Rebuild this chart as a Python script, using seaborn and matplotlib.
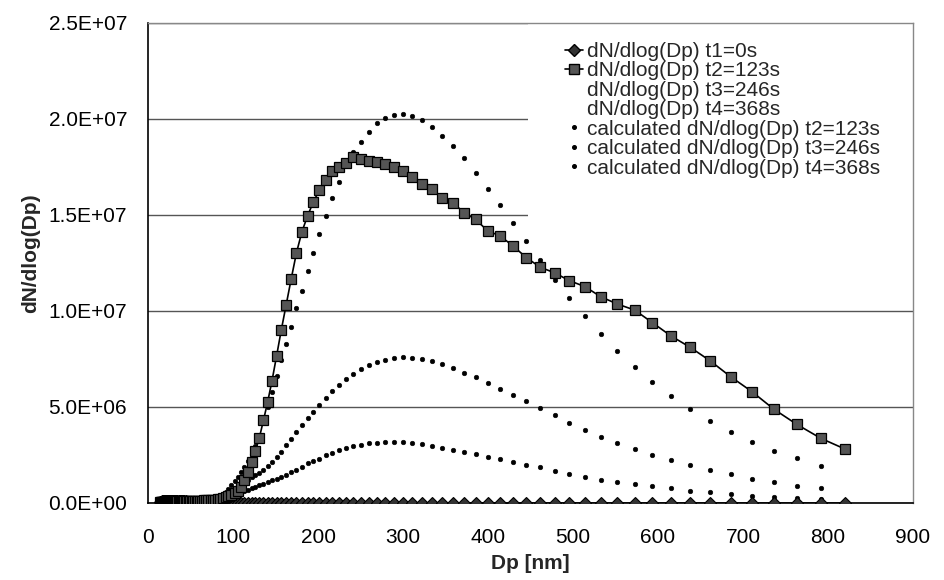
import matplotlib
matplotlib.use("Agg")
import matplotlib.pyplot as plt
import numpy as np
import pandas as pd
import seaborn as sns
from matplotlib.ticker import FuncFormatter
from matplotlib.lines import Line2D
from matplotlib.patches import Rectangle

# ---------------- data (values in units of 1e6) ----------------
dp = [14.6, 15.1, 15.7, 16.3, 16.8, 17.5, 18.1, 18.8, 19.5, 20.2,
      20.9, 21.7, 22.5, 23.3, 24.1, 25.0, 25.9, 26.9, 27.9, 28.9,
      30.0, 31.1, 32.2, 33.4, 34.6, 35.9, 37.2, 38.5, 40.0, 41.4,
      42.9, 44.5, 46.1, 47.8, 49.6, 51.4, 53.3, 55.2, 57.3, 59.4,
      61.5, 63.8, 66.1, 68.5, 71.0, 73.7, 76.4, 79.1, 82.0, 85.1,
      88.2, 91.4, 94.7, 98.2, 101.8, 105.5, 109.4, 113.4, 117.6, 121.9,
      126.3, 131.0, 135.8, 140.7, 145.9, 151.2, 156.8, 162.5, 168.5, 174.7,
      181.1, 187.7, 194.6, 201.7, 209.1, 216.7, 224.7, 232.9, 241.4, 250.3,
      259.5, 269.0, 278.8, 289.0, 299.6, 310.6, 322.0, 333.8, 346.0, 358.7,
      371.8, 385.4, 399.5, 414.2, 429.4, 445.1, 461.4, 478.3, 495.8, 514.0,
      532.8, 552.3, 572.5, 593.5, 615.3, 637.8, 661.2, 685.4, 710.5, 736.5,
      763.5, 791.5, 820.5]

t1_meas = [0.04, 0.05, 0.06, 0.07, 0.08, 0.08, 0.09, 0.09, 0.10, 0.10,
           0.10, 0.10, 0.11, 0.11, 0.11, 0.11, 0.11, 0.11, 0.11, 0.11,
           0.11, 0.11, 0.10, 0.10, 0.10, 0.10, 0.09, 0.09, 0.09, 0.08,
           0.08, 0.08, 0.07, 0.07, 0.06, 0.06, 0.05, 0.05, 0.04, 0.04,
           0.04, 0.03, 0.03, 0.03, 0.02, 0.02, 0.02, 0.01, 0.01, 0.01,
           0, 0, 0, 0, 0, 0, 0, 0, 0, 0,
           0, 0, 0, 0, 0, 0, 0, 0, 0, 0,
           0, 0, 0, 0, 0, 0, 0, 0, 0, 0,
           0, 0, 0, 0, 0, 0, 0, 0, 0, 0,
           0, 0, 0, 0, 0, 0, 0, 0, 0, 0,
           0, 0, 0, 0, 0, 0, 0, 0, 0, 0,
           0, 0, 0]

t2_meas = [0.03, 0.03, 0.04, 0.04, 0.05, 0.05, 0.06, 0.06, 0.07, 0.07,
           0.08, 0.08, 0.09, 0.09, 0.10, 0.10, 0.10, 0.11, 0.11, 0.11,
           0.12, 0.12, 0.12, 0.12, 0.12, 0.12, 0.12, 0.12, 0.12, 0.12,
           0.12, 0.12, 0.12, 0.12, 0.12, 0.12, 0.12, 0.12, 0.12, 0.12,
           0.13, 0.13, 0.14, 0.14, 0.15, 0.16, 0.17, 0.18, 0.19, 0.20,
           0.24, 0.29, 0.35, 0.42, 0.50, 0.62, 0.85, 1.20, 1.63, 2.15,
           2.71, 3.40, 4.30, 5.25, 6.37, 7.64, 9.01, 10.31, 11.68, 13.04,
           14.13, 14.95, 15.69, 16.30, 16.82, 17.31, 17.48, 17.69, 18.04, 17.90,
           17.83, 17.78, 17.66, 17.52, 17.29, 16.97, 16.63, 16.34, 15.87, 15.64,
           15.12, 14.77, 14.18, 13.91, 13.39, 12.78, 12.28, 11.99, 11.58, 11.27,
           10.74, 10.36, 10.05, 9.39, 8.70, 8.11, 7.41, 6.58, 5.80, 4.88,
           4.09, 3.37, 2.80]

calc_t2 = [0, 0, 0, 0, 0, 0, 0, 0, 0, 0,
           0, 0, 0, 0, 0, 0, 0, 0, 0, 0,
           0, 0, 0, 0, 0, 0, 0, 0, 0, 0,
           0.00, 0.00, 0.01, 0.01, 0.01, 0.01, 0.02, 0.02, 0.02, 0.03,
           0.03, 0.04, 0.05, 0.07, 0.09, 0.12, 0.16, 0.21, 0.27, 0.35,
           0.45, 0.58, 0.74, 0.92, 1.12, 1.35, 1.60, 1.88, 2.20, 2.55,
           2.95, 3.45, 4.20, 5.00, 5.80, 6.60, 7.45, 8.30, 9.15, 10.14,
           11.06, 12.10, 13.04, 14.00, 14.95, 15.87, 16.74, 17.60, 18.30, 18.82,
           19.34, 19.78, 20.03, 20.20, 20.26, 20.16, 19.95, 19.60, 19.13, 18.60,
           17.95, 17.17, 16.34, 15.52, 14.57, 13.65, 12.66, 11.61, 10.66, 9.74,
           8.80, 7.93, 7.07, 6.32, 5.59, 4.90, 4.27, 3.68, 3.16, 2.69,
           2.33, 1.94]

calc_t3 = [0, 0, 0, 0, 0, 0, 0, 0, 0, 0,
           0, 0, 0, 0, 0, 0, 0, 0, 0, 0,
           0, 0, 0, 0, 0, 0, 0, 0, 0, 0,
           0.00, 0.01, 0.01, 0.01, 0.02, 0.02, 0.02, 0.03, 0.03, 0.04,
           0.05, 0.06, 0.07, 0.09, 0.11, 0.14, 0.18, 0.22, 0.27, 0.33,
           0.40, 0.48, 0.57, 0.67, 0.78, 0.90, 1.02, 1.12, 1.22, 1.33,
           1.45, 1.58, 1.73, 1.92, 2.15, 2.41, 2.67, 3.00, 3.35, 3.70,
           4.06, 4.41, 4.76, 5.10, 5.48, 5.83, 6.15, 6.44, 6.72, 6.96,
           7.18, 7.36, 7.47, 7.54, 7.58, 7.56, 7.48, 7.37, 7.23, 7.02,
           6.79, 6.55, 6.27, 5.95, 5.63, 5.30, 4.93, 4.56, 4.18, 3.80,
           3.42, 3.12, 2.80, 2.50, 2.22, 1.96, 1.72, 1.49, 1.27, 1.08,
           0.90, 0.76]

calc_t4 = [0, 0, 0, 0, 0, 0, 0, 0, 0, 0,
           0, 0, 0, 0, 0, 0, 0, 0, 0, 0,
           0, 0, 0, 0, 0, 0, 0, 0, 0, 0,
           0.00, 0.00, 0.01, 0.01, 0.01, 0.01, 0.02, 0.02, 0.02, 0.03,
           0.04, 0.05, 0.06, 0.07, 0.08, 0.10, 0.12, 0.14, 0.16, 0.19,
           0.28, 0.33, 0.38, 0.44, 0.50, 0.55, 0.60, 0.64, 0.70, 0.77,
           0.85, 0.93, 1.00, 1.08, 1.18, 1.27, 1.37, 1.46, 1.60, 1.72,
           1.89, 2.07, 2.18, 2.30, 2.50, 2.62, 2.74, 2.85, 2.95, 3.03,
           3.10, 3.15, 3.18, 3.19, 3.19, 3.12, 3.05, 2.97, 2.88, 2.77,
           2.65, 2.53, 2.41, 2.28, 2.15, 2.00, 1.85, 1.68, 1.50, 1.35,
           1.21, 1.10, 0.97, 0.86, 0.76, 0.65, 0.55, 0.47, 0.39, 0.32,
           0.26, 0.21]

labels = ["dN/dlog(Dp) t1=0s", "dN/dlog(Dp) t2=123s", "dN/dlog(Dp) t3=246s",
          "dN/dlog(Dp) t4=368s", "calculated dN/dlog(Dp) t2=123s",
          "calculated dN/dlog(Dp) t3=246s", "calculated dN/dlog(Dp) t4=368s"]
x_ticks = [0, 100, 200, 300, 400, 500, 600, 700, 800, 900]
y_ticks = [0, 5e6, 1e7, 1.5e7, 2e7, 2.5e7]

# ---------------- figure ----------------
sns.set_style("white")
plt.rcParams["font.family"] = ["Liberation Sans", "DejaVu Sans"]

W, H = 945, 580
FS = 15
fig = plt.figure(figsize=(W / 100, H / 100), dpi=100)
ax = fig.add_axes([148 / W, 1 - 503 / H, (913 - 148) / W, (503 - 23) / H])

def frame(vals, name):
    n = len(vals)
    return pd.DataFrame({"Dp": dp[:n], "v": np.array(vals) * 1e6, "s": name})

for vals, name in [(calc_t2, labels[4]), (calc_t3, labels[5]), (calc_t4, labels[6])]:
    sns.scatterplot(data=frame(vals, name), x="Dp", y="v", marker="o", s=11,
                    color="black", edgecolor="black", linewidth=0.4, ax=ax,
                    zorder=3, legend=False)

sns.lineplot(data=frame(t1_meas, labels[0]), x="Dp", y="v", marker="D", markersize=6.5,
             color="black", markeredgecolor="black", markerfacecolor="#333333",
             markeredgewidth=0.8, linewidth=1.2, estimator=None, sort=False, ax=ax,
             zorder=4, legend=False)
sns.lineplot(data=frame(t2_meas, labels[1]), x="Dp", y="v", marker="s", markersize=6.8,
             color="black", markeredgecolor="black", markerfacecolor="#555555",
             markeredgewidth=0.9, linewidth=1.2, estimator=None, sort=False, ax=ax,
             zorder=5, legend=False)

ax.set_xlim(0, 900)
ax.set_ylim(0, 2.5e7)
ax.set_xticks(x_ticks)
ax.set_yticks(y_ticks)
ax.yaxis.set_major_formatter(FuncFormatter(lambda v, p: f"{v:.1E}"))
ax.tick_params(axis="both", direction="out", length=5, width=1, colors="black",
               labelsize=FS)
ax.tick_params(axis="x", pad=13)
ax.tick_params(axis="y", pad=10)
ax.yaxis.grid(True, color="#555555", linewidth=1.0)
ax.xaxis.grid(False)
ax.set_axisbelow(True)
for side in ["left", "bottom"]:
    ax.spines[side].set_color("black")
    ax.spines[side].set_linewidth(1.2)
for side in ["top", "right"]:
    ax.spines[side].set_color("#888888")
    ax.spines[side].set_linewidth(1.0)

ax.set_xlabel("Dp [nm]", fontsize=FS, fontweight="bold")
ax.set_ylabel("dN/dlog(Dp)", fontsize=FS, fontweight="bold")
ax.xaxis.set_label_coords(0.5, (503 - 554) / 480)
ax.yaxis.set_label_coords((40 - 148) / 765, 0.52)

# white legend area hiding the gridlines behind it
ax.add_patch(Rectangle(((528 - 148) / 765, (503 - 228) / 480), 1 - (528 - 148) / 765,
                       1 - (503 - 228) / 480, transform=ax.transAxes,
                       facecolor="white", edgecolor="none", zorder=1))

handles = [
    Line2D([], [], color="black", lw=1.2, marker="D", markersize=6.5,
           markerfacecolor="#333333", markeredgecolor="black"),
    Line2D([], [], color="black", lw=1.2, marker="s", markersize=6.8,
           markerfacecolor="#555555", markeredgecolor="black"),
    Line2D([], [], ls="none"),
    Line2D([], [], ls="none"),
    Line2D([], [], ls="none", marker="o", markersize=2.6, color="black"),
    Line2D([], [], ls="none", marker="o", markersize=2.6, color="black"),
    Line2D([], [], ls="none", marker="o", markersize=2.6, color="black"),
]
ax.legend(handles, labels, loc="upper left", bbox_to_anchor=(565 / W, 1 - 42 / H),
          bbox_transform=fig.transFigure, frameon=False, fontsize=FS,
          handlelength=0.85, handletextpad=0.2, labelspacing=0.02, borderpad=0,
          borderaxespad=0)

fig.savefig("out.png", dpi=100)
